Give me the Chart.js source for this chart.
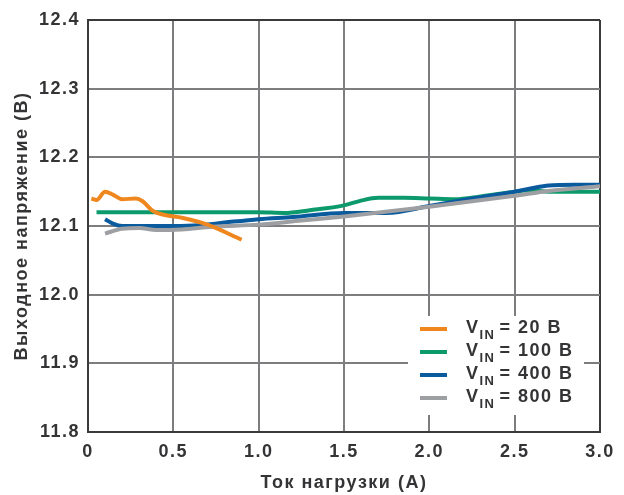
<!DOCTYPE html>
<html lang="ru">
<head>
    <meta charset="UTF-8">
    <title>Выходное напряжение</title>
    <style>
        body { margin: 0; background: #fff; }
        #wrap { width: 624px; height: 495px; }
    </style>
</head>
<body>
    <div id="wrap"><canvas id="myChart" width="624" height="495"></canvas></div>

<script src="https://cdn.jsdelivr.net/npm/chart.js@4.4.1/dist/chart.umd.min.js"></script>
<script>
    // data
    const vin20x = [0.02, 0.05, 0.1, 0.15, 0.2, 0.28, 0.32, 0.38, 0.45, 0.55, 0.7, 0.9]
    const vin20y = [12.14, 12.138, 12.15, 12.145, 12.139, 12.14, 12.136, 12.122, 12.116, 12.112, 12.102, 12.08]

    const vin100x = [0.05, 0.5, 1.0, 1.15, 1.3, 1.5, 1.6, 1.7, 1.85, 2.0, 2.15, 2.3, 2.5, 2.6, 2.7, 3.0]
    const vin100y = [12.12, 12.12, 12.12, 12.119, 12.123, 12.13, 12.137, 12.141, 12.141, 12.14, 12.139, 12.143, 12.15, 12.152, 12.15, 12.15]

    const vin400x = [0.1, 0.15, 0.2, 0.5, 0.65, 0.8, 1.0, 1.2, 1.5, 1.75, 2.0, 2.25, 2.5, 2.6, 2.7, 2.85, 3.0]
    const vin400y = [12.11, 12.103, 12.1, 12.1, 12.101, 12.105, 12.11, 12.113, 12.119, 12.119, 12.129, 12.14, 12.15, 12.155, 12.159, 12.16, 12.16]

    const vin800x = [0.1, 0.2, 0.3, 0.4, 0.55, 0.73, 1.0, 1.25, 1.5, 2.0, 2.5, 2.7, 3.0]
    const vin800y = [12.089, 12.096, 12.097, 12.094, 12.095, 12.099, 12.102, 12.108, 12.114, 12.128, 12.144, 12.151, 12.158]

    const seriesNames = ['20 В', '100 В', '400 В', '800 В']
    const xTickLabels = ['0', '0.5', '1.0', '1.5', '2.0', '2.5', '3.0']
    const yTickLabels = ['11.8', '11.9', '12.0', '12.1', '12.2', '12.3', '12.4']

    const textColor = '#343436'
    const gridColor = '#7d7d80'
    const frameColor = '#3a3a3c'
    const fontName = "'Liberation Sans', Arial, sans-serif"
    const spacing = '1.5px'

    function pts(xs, ys) {
        return xs.map((x, i) => ({ x: x, y: ys[i] }))
    }

    function lineSet(label, xs, ys, color, order) {
        return {
            label: label,
            data: pts(xs, ys),
            borderColor: color,
            backgroundColor: color,
            borderWidth: 4,
            pointRadius: 0,
            tension: 0.4,
            cubicInterpolationMode: 'monotone',
            fill: false,
            order: order
        }
    }

    // the reference text is set a bit wider than Arial, so space the letters
    const wideText = {
        id: 'wideText',
        beforeUpdate(chart) { chart.ctx.letterSpacing = spacing },
        beforeDraw(chart) { chart.ctx.letterSpacing = spacing }
    }

    // legend drawn by hand so the "IN" can be a subscript
    const subLegend = {
        id: 'subLegend',
        afterDatasetsDraw(chart) {
            const ctx = chart.ctx
            ctx.save()
            ctx.fillStyle = '#fff'
            ctx.fillRect(408, 316, 176, 99)
            chart.data.datasets.forEach((ds, i) => {
                const y = 329 + i * 23
                ctx.strokeStyle = ds.borderColor
                ctx.lineWidth = 4
                ctx.beginPath()
                ctx.moveTo(420, y)
                ctx.lineTo(447, y)
                ctx.stroke()

                ctx.fillStyle = textColor
                ctx.textBaseline = 'alphabetic'
                ctx.letterSpacing = spacing
                ctx.font = 'bold 18px ' + fontName
                let x = 466
                ctx.fillText('V', x, y + 4)
                x += ctx.measureText('V').width
                ctx.font = 'bold 13px ' + fontName
                ctx.fillText('IN', x, y + 10)
                x += ctx.measureText('IN').width + 4
                ctx.font = 'bold 18px ' + fontName
                ctx.fillText('= ' + seriesNames[i], x, y + 4)
            })
            ctx.restore()
        }
    }

    const myChart = new Chart('myChart', {
        type: 'line',
        data: {
            datasets: [
                lineSet('VIN = 20 В', vin20x, vin20y, '#ef861e', 0),
                lineSet('VIN = 100 В', vin100x, vin100y, '#0c9a6c', 3),
                lineSet('VIN = 400 В', vin400x, vin400y, '#0a5a9e', 2),
                lineSet('VIN = 800 В', vin800x, vin800y, '#9d9fa2', 1)
            ]
        },
        options: {
            responsive: false,
            animation: false,
            layout: { padding: { top: 20, right: 24, left: 0, bottom: 0 } },
            plugins: {
                legend: { display: false },
                tooltip: { enabled: false }
            },
            scales: {
                x: {
                    type: 'linear',
                    min: 0,
                    max: 3,
                    afterFit: (scale) => { scale.height = 63 },
                    ticks: {
                        stepSize: 0.5,
                        padding: 9,
                        color: textColor,
                        font: { family: fontName, size: 18, weight: 'bold' },
                        callback: (v) => xTickLabels[Math.round(v * 2)]
                    },
                    grid: {
                        drawTicks: false,
                        lineWidth: 2,
                        color: (c) => (c.tick && c.tick.value === 3 ? frameColor : gridColor)
                    },
                    border: { color: frameColor, width: 2 },
                    title: {
                        display: true,
                        text: 'Ток нагрузки (A)',
                        color: textColor,
                        font: { family: fontName, size: 18, weight: 'bold' },
                        padding: { top: 0, bottom: 1 }
                    }
                },
                y: {
                    min: 11.8,
                    max: 12.4,
                    afterFit: (scale) => { scale.width = 88 },
                    ticks: {
                        stepSize: 0.1,
                        padding: 8,
                        color: textColor,
                        font: { family: fontName, size: 18, weight: 'bold' },
                        callback: (v) => yTickLabels[Math.round((v - 11.8) * 10)]
                    },
                    grid: {
                        drawTicks: false,
                        lineWidth: 2,
                        color: (c) => (c.tick && Math.abs(c.tick.value - 12.4) < 1e-6 ? frameColor : gridColor)
                    },
                    border: { color: frameColor, width: 2 },
                    title: {
                        display: true,
                        text: 'Выходное напряжение (В)',
                        color: textColor,
                        font: { family: fontName, size: 18, weight: 'bold' },
                        padding: { top: 11, bottom: 0 }
                    }
                }
            }
        },
        plugins: [wideText, subLegend]
    });
</script>
</body>
</html>
